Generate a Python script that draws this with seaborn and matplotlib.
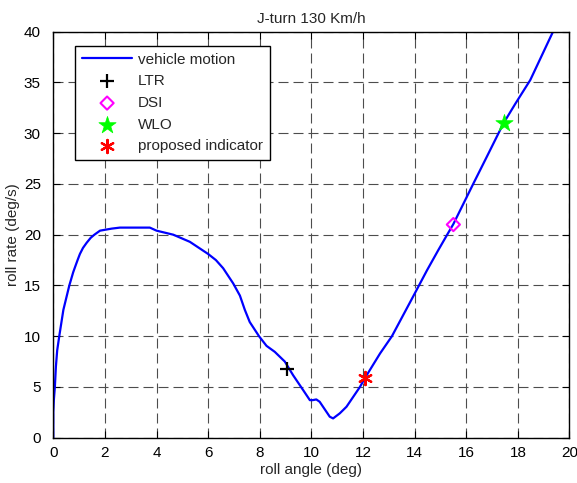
import matplotlib
matplotlib.use("Agg")
import matplotlib.pyplot as plt
import seaborn as sns
import pandas as pd

roll_angle = [0, 0.0, 0.02, 0.06, 0.10, 0.15, 0.23, 0.39, 0.62, 0.77, 0.84, 0.94, 1.03,
              1.15, 1.29, 1.45, 1.59, 1.81, 2.26, 2.58, 3.2, 3.74, 4.0, 4.65, 5.29,
              6.0, 6.3, 6.58, 6.97, 7.23, 7.42, 7.61, 7.97, 8.26, 8.58, 8.97, 9.29,
              9.68, 9.94, 10.05, 10.19, 10.32, 10.71, 10.84, 11.1, 11.36, 11.88,
              12.08, 12.66, 13.12, 13.96, 14.48, 14.92, 15.26, 15.5, 16.28, 16.8,
              17.44, 17.9, 18.48, 19.36, 19.6]
roll_rate = [0, 2.5, 3.7, 5.0, 7.0, 8.6, 10.0, 12.6, 15.0, 16.3, 16.8, 17.5, 18.1,
             18.7, 19.2, 19.7, 20.0, 20.4, 20.6, 20.7, 20.7, 20.7, 20.4, 20.0, 19.3,
             18.1, 17.5, 16.7, 15.2, 14.0, 12.6, 11.4, 10.0, 9.05, 8.46, 7.5, 6.16,
             4.69, 3.7, 3.7, 3.77, 3.54, 2.07, 1.9, 2.4, 3.05, 5.0,
             5.9, 8.3, 10.0, 14.0, 16.5, 18.5, 20.0, 21.05, 25.06, 27.7,
             30.97, 32.9, 35.24, 40.0, 41.0]

ltr_pt = (9.07, 6.8)
dsi_pt = (15.5, 21.0)
wlo_pt = (17.45, 31.0)
prop_pt = (12.08, 5.9)

x_ticks = [0, 2, 4, 6, 8, 10, 12, 14, 16, 18, 20]
y_ticks = [0, 5, 10, 15, 20, 25, 30, 35, 40]

sns.set_style("white")
plt.rcParams['font.family'] = ['Liberation Sans', 'DejaVu Sans']
FS = 11

fig = plt.figure(figsize=(5.77, 4.83), dpi=100)
ax = fig.add_axes([0.0924, 0.0938, 0.8946, 0.8405])

df = pd.DataFrame({"roll angle": roll_angle, "roll rate": roll_rate})
sns.lineplot(data=df, x="roll angle", y="roll rate", sort=False, estimator=None,
             color=(0, 0, 1), linewidth=1.6, ax=ax, label="vehicle motion")

sns.scatterplot(x=[ltr_pt[0]], y=[ltr_pt[1]], marker='+', s=110, color='black',
                linewidth=1.6, ax=ax, label="LTR", zorder=5)
sns.scatterplot(x=[dsi_pt[0]], y=[dsi_pt[1]], marker='D', s=45, facecolor='none',
                edgecolor='#ff00ff', linewidth=1.5, ax=ax, label="DSI", zorder=5)
sns.scatterplot(x=[wlo_pt[0]], y=[wlo_pt[1]], marker='*', s=170, color='#00ff00',
                edgecolor='#00ff00', linewidth=0.5, ax=ax, label="WLO", zorder=5)
sns.scatterplot(x=[prop_pt[0]], y=[prop_pt[1]], marker=(6, 2, 0), s=90, color='red',
                edgecolor='red', linewidth=1.6, ax=ax, label="proposed indicator", zorder=5)

ax.set_xlim(0, 20)
ax.set_ylim(0, 40)
ax.set_xticks(x_ticks)
ax.set_yticks(y_ticks)
ax.set_xticklabels([str(v) for v in x_ticks], fontsize=FS)
ax.set_yticklabels([str(v) for v in y_ticks], fontsize=FS)
ax.tick_params(direction='in', length=5, width=0.8, top=True, right=True,
               bottom=True, left=True, pad=6, colors='black')
ax.tick_params(axis='y', pad=9)
ax.grid(True, color='0.3', linestyle=(0, (9, 4.5)), linewidth=0.8)
for s in ax.spines.values():
    s.set_color('black')
    s.set_linewidth(1.0)

ax.set_xlabel("roll angle (deg)", fontsize=FS, labelpad=2)
ax.set_ylabel("roll rate (deg/s)", fontsize=FS, labelpad=3)
ax.set_title("J-turn 130 Km/h", fontsize=FS, pad=6)

leg = ax.legend(loc='upper left', bbox_to_anchor=(0.042, 0.965), borderaxespad=0,
                fontsize=FS, frameon=True, fancybox=False, edgecolor='black',
                handlelength=3.3, labelspacing=0.5, borderpad=0.45, handletextpad=0.35)
leg.get_frame().set_linewidth(1.0)
leg.get_frame().set_alpha(1)

fig.savefig("out.png", dpi=100)
